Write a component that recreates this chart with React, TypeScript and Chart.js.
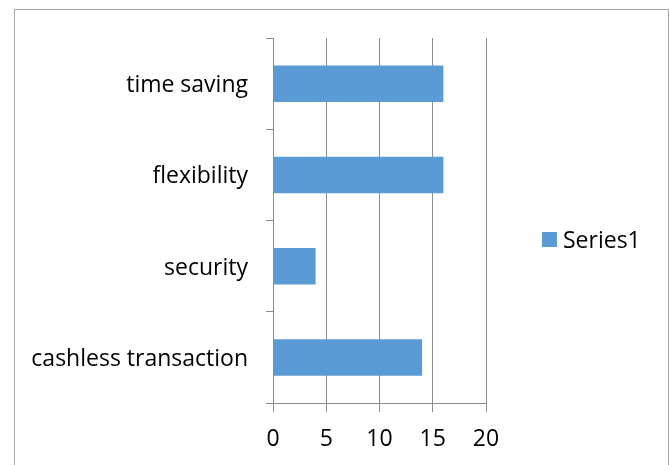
import React, { useEffect, useRef } from "react";
import { Chart, registerables } from "chart.js";

Chart.register(...registerables);

// Survey responses, listed bottom-up as in the source worksheet
const categories = ["cashless transaction", "security", "flexibility", "time saving"];
const series1 = [14, 4, 16, 16];
const seriesName = "Series1";
const xTicks = [0, 5, 10, 15, 20];

const BAR_COLOR = "#5B9BD5";
const AXIS_COLOR = "#8C8C8C";
const FONT = "'Open Sans', 'Noto Sans', sans-serif";
const FONT_SIZE = 23;

// Outer frame and a simple legend box drawn on the canvas
const frameAndLegend = {
  id: "frameAndLegend",
  beforeDraw(chart: any) {
    const { ctx } = chart;
    ctx.save();
    ctx.fillStyle = "#ffffff";
    ctx.fillRect(14, 9, 654, 460);
    ctx.strokeStyle = "#A6A6A6";
    ctx.lineWidth = 1;
    ctx.strokeRect(14.5, 9.5, 654, 470);
    ctx.restore();
  },
  afterDraw(chart: any) {
    const { ctx } = chart;
    const ds = chart.data.datasets[0];
    ctx.save();
    ctx.fillStyle = ds.backgroundColor;
    ctx.fillRect(542, 232, 15, 15);
    ctx.fillStyle = "#000000";
    ctx.font = `${FONT_SIZE}px ${FONT}`;
    ctx.textBaseline = "middle";
    ctx.textAlign = "left";
    ctx.fillText(ds.label, 563, 241);
    ctx.restore();
  },
};

export default function App() {
  const canvasRef = useRef<HTMLCanvasElement | null>(null);

  useEffect(() => {
    document.body.style.margin = "0";
    const canvas = canvasRef.current;
    if (!canvas) return;
    const chart = new Chart(canvas, {
      type: "bar",
      data: {
        labels: categories,
        datasets: [
          {
            label: seriesName,
            data: series1,
            backgroundColor: BAR_COLOR,
            borderWidth: 0,
            categoryPercentage: 1,
            barPercentage: 0.4,
          },
        ],
      },
      options: {
        indexAxis: "y",
        animation: false,
        responsive: false,
        maintainAspectRatio: false,
        layout: { padding: { left: 0, top: 38, right: 184, bottom: 0 } },
        plugins: {
          legend: { display: false },
          tooltip: { enabled: false },
        },
        scales: {
          x: {
            min: xTicks[0],
            max: xTicks[xTicks.length - 1],
            afterBuildTicks(scale: any) {
              scale.ticks = xTicks.map((v) => ({ value: v }));
            },
            afterFit(scale: any) {
              scale.height = 62;
            },
            grid: {
              color: AXIS_COLOR,
              lineWidth: 1,
              tickLength: 9,
              drawTicks: true,
            },
            border: { display: true, color: AXIS_COLOR, width: 1 },
            ticks: {
              color: "#000000",
              padding: 14,
              font: { family: FONT, size: FONT_SIZE },
              maxRotation: 0,
            },
          },
          y: {
            reverse: true,
            afterFit(scale: any) {
              scale.width = 273;
            },
            grid: {
              offset: true,
              drawOnChartArea: false,
              color: AXIS_COLOR,
              tickLength: 7,
            },
            border: { display: true, color: AXIS_COLOR, width: 1 },
            ticks: {
              color: "#000000",
              padding: 18,
              labelOffset: 2,
              font: { family: FONT, size: FONT_SIZE },
            },
          },
        },
      },
      plugins: [frameAndLegend],
    });
    return () => chart.destroy();
  }, []);

  return <canvas ref={canvasRef} width={670} height={465} style={{ display: "block" }} />;
}
